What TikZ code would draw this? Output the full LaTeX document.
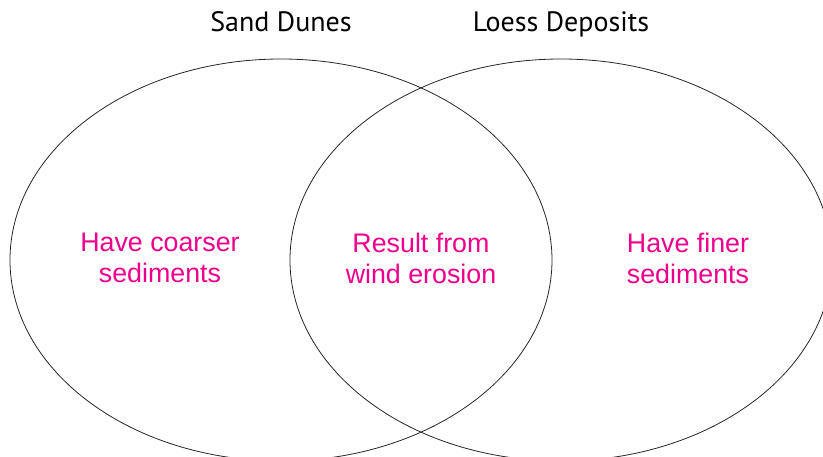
\documentclass[tikz,border=0pt]{standalone}
\usepackage{fontspec}
\setmainfont{Liberation Sans}
\newfontfamily\titlefont{PT Sans}
\definecolor{notepink}{RGB}{236,0,140}
\begin{document}
\begin{tikzpicture}[x=1pt,y=-1pt,
  ring/.style={draw=black!85,line width=0.8pt},
  heading/.style={font=\titlefont\fontsize{28}{32}\selectfont,anchor=base,inner sep=0pt},
  note/.style={font=\fontsize{26.8}{31}\selectfont,text=notepink,align=center,inner sep=0pt}]
\useasboundingbox (0,0) rectangle (823,456);
\begin{scope}
  \clip (0,0) rectangle (823,456);
  \draw[ring] (281,260) ellipse [x radius=271, y radius=201];
  \draw[ring] (561,260) ellipse [x radius=271, y radius=201];
\end{scope}
\node[heading] (sand) at (281,31) {Sand Dunes};
\node[heading] (loess) at (561,31) {Loess Deposits};
\node[note] (coarse) at (160,258) {Have coarser\\sediments};
\node[note] (common) at (421,258) {Result from\\wind erosion};
\node[note] (fine) at (688,258) {Have finer\\sediments};
\end{tikzpicture}
\end{document}
